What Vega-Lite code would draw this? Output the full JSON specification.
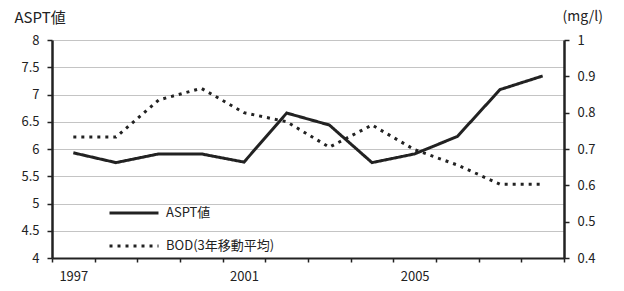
{
  "$schema": "https://vega.github.io/schema/vega-lite/v6.json",
  "autosize": {"type": "none"},
  "padding": {"left": 52, "top": 40, "right": 60, "bottom": 33},
  "width": 512,
  "height": 218,
  "background": "white",
  "config": {
    "font": "Noto Sans CJK JP",
    "view": {"stroke": null},
    "axis": {"labelColor": "#222", "labelFontSize": 13, "titleColor": "#222", "domainColor": "#222", "tickColor": "#222"}
  },
  "data": {
    "values": [
      {"year": "1997", "series": "ASPT値", "value": 5.93},
      {"year": "1998", "series": "ASPT値", "value": 5.75},
      {"year": "1999", "series": "ASPT値", "value": 5.91},
      {"year": "2000", "series": "ASPT値", "value": 5.91},
      {"year": "2001", "series": "ASPT値", "value": 5.76},
      {"year": "2002", "series": "ASPT値", "value": 6.66},
      {"year": "2003", "series": "ASPT値", "value": 6.44},
      {"year": "2004", "series": "ASPT値", "value": 5.75},
      {"year": "2005", "series": "ASPT値", "value": 5.91},
      {"year": "2006", "series": "ASPT値", "value": 6.23},
      {"year": "2007", "series": "ASPT値", "value": 7.09},
      {"year": "2008", "series": "ASPT値", "value": 7.34},
      {"year": "1997", "series": "BOD(3年移動平均)", "value": 0.733},
      {"year": "1998", "series": "BOD(3年移動平均)", "value": 0.733},
      {"year": "1999", "series": "BOD(3年移動平均)", "value": 0.835},
      {"year": "2000", "series": "BOD(3年移動平均)", "value": 0.867},
      {"year": "2001", "series": "BOD(3年移動平均)", "value": 0.8},
      {"year": "2002", "series": "BOD(3年移動平均)", "value": 0.775},
      {"year": "2003", "series": "BOD(3年移動平均)", "value": 0.705},
      {"year": "2004", "series": "BOD(3年移動平均)", "value": 0.766},
      {"year": "2005", "series": "BOD(3年移動平均)", "value": 0.698},
      {"year": "2006", "series": "BOD(3年移動平均)", "value": 0.656},
      {"year": "2007", "series": "BOD(3年移動平均)", "value": 0.603},
      {"year": "2008", "series": "BOD(3年移動平均)", "value": 0.603}
    ]
  },
  "encoding": {
    "x": {
      "field": "year", "type": "ordinal",
      "scale": {"type": "band", "paddingInner": 0, "paddingOuter": 0},
      "axis": {
        "title": null, "labelAngle": 0, "tickBand": "extent", "domainWidth": 2, "tickWidth": 1.5, "tickSize": 4,
        "labelPadding": 8,
        "labelExpr": "(datum.label == '1997' || datum.label == '2001' || datum.label == '2005') ? datum.label : ''"
      }
    },
    "strokeDash": {
      "field": "series", "type": "nominal",
      "scale": {"domain": ["ASPT値", "BOD(3年移動平均)"], "range": [[1, 0], [3, 5]]},
      "legend": {
        "title": null, "orient": "none", "legendX": 56, "legendY": 147,
        "symbolType": "stroke", "symbolSize": 2400, "symbolStrokeWidth": 3, "symbolStrokeColor": "#222",
        "labelFontSize": 13, "labelColor": "#222", "rowPadding": -18, "labelOffset": 6
      }
    }
  },
  "layer": [
    {
      "transform": [{"filter": "datum.series == 'ASPT値'"}],
      "mark": {"type": "line", "color": "#222", "strokeWidth": 3},
      "encoding": {
        "y": {
          "field": "value", "type": "quantitative",
          "scale": {"domain": [4, 8], "nice": false, "zero": false},
          "axis": {
            "values": [4, 4.5, 5, 5.5, 6, 6.5, 7, 7.5, 8], "format": "~g",
            "title": "ASPT値", "titleAngle": 0, "titleAlign": "left", "titleBaseline": "alphabetic",
            "titleX": -38, "titleY": -18, "titleFontSize": 15, "titleFontWeight": "normal",
            "grid": true, "gridColor": "#c4c4c4", "gridWidth": 1,
            "domainWidth": 2.5, "tickSize": 5, "tickWidth": 1.5, "labelPadding": 8
          }
        }
      }
    },
    {
      "transform": [{"filter": "datum.series == 'BOD(3年移動平均)'"}],
      "mark": {"type": "line", "color": "#222", "strokeWidth": 3},
      "encoding": {
        "y": {
          "field": "value", "type": "quantitative",
          "scale": {"domain": [0.4, 1], "nice": false, "zero": false},
          "axis": {
            "orient": "right", "values": [0.4, 0.5, 0.6, 0.7, 0.8, 0.9, 1], "format": "~g",
            "title": "(mg/l)", "titleAngle": 0, "titleAlign": "left", "titleBaseline": "alphabetic",
            "titleX": -2, "titleY": -20, "titleFontSize": 14, "titleFontWeight": "normal",
            "grid": false, "domainWidth": 2.5, "tickSize": 5, "tickWidth": 1.5, "labelPadding": 8
          }
        }
      }
    }
  ],
  "resolve": {"scale": {"y": "independent"}}
}
